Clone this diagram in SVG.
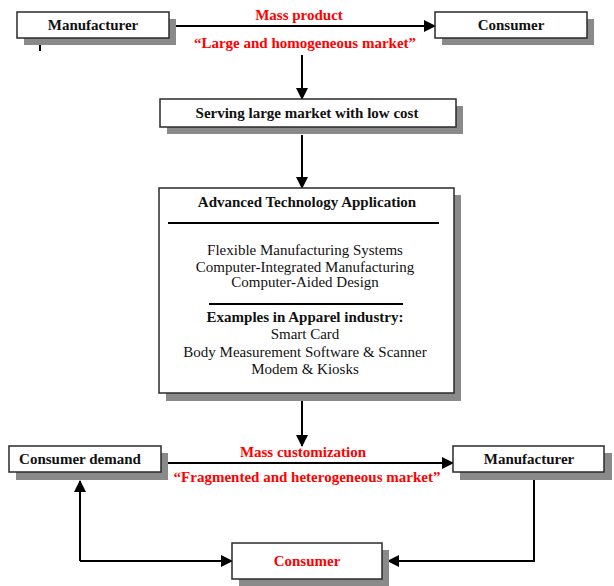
<svg xmlns="http://www.w3.org/2000/svg" width="614" height="586" viewBox="0 0 614 586">
  <style>
    .shadow { fill: #8a8a8a; }
    .box { fill: #ffffff; stroke: #2a2a2a; stroke-width: 1.5; }
    .lbl { font-family: "Liberation Serif", "Times New Roman", serif; font-size: 15px; fill: #111111; text-anchor: middle; }
    .b { font-weight: bold; }
    .red { fill: #ff0000; font-weight: bold; }
    .conn { fill: none; stroke: #000000; stroke-width: 2; }
    .rule { stroke: #000000; stroke-width: 2; }
  </style>
  <defs>
    <marker id="arrow" markerUnits="userSpaceOnUse" markerWidth="12" markerHeight="12" refX="11" refY="6" orient="auto">
      <path d="M0,0 L12,6 L0,12 z" fill="#000000"/>
    </marker>
  </defs>

  <rect width="614" height="586" fill="#ffffff"/>

  <!-- connectors -->
  <g id="connectors">
    <path class="conn" d="M173,26 L435,26" marker-end="url(#arrow)"/>
    <path class="conn" d="M302,55 L302,99" marker-end="url(#arrow)"/>
    <path class="conn" d="M302,135 L302,188" marker-end="url(#arrow)"/>
    <path class="conn" d="M302,393 L302,446" marker-end="url(#arrow)"/>
    <path class="conn" d="M164,463 L453,463" marker-end="url(#arrow)"/>
    <path class="conn" d="M80,561 L80,481" marker-end="url(#arrow)"/>
    <path class="conn" d="M80,561 L232,561" marker-end="url(#arrow)"/>
    <path class="conn" d="M534,480 L534,561 L388,561" marker-end="url(#arrow)"/>
    <path class="conn" d="M40,38 L40,51" stroke-width="1.5"/>
    <text class="lbl red" x="299" y="20">Mass product</text>
    <text class="lbl red" x="305" y="48">“Large and homogeneous market”</text>
    <text class="lbl red" x="303" y="457">Mass customization</text>
    <text class="lbl red" x="307" y="482">“Fragmented and heterogeneous market”</text>
  </g>

  <g id="manufacturer-top">
    <rect class="shadow" x="24" y="19" width="152" height="26"/>
    <rect class="box" x="17" y="12" width="152" height="26"/>
    <text class="lbl b" x="93" y="30">Manufacturer</text>
  </g>

  <g id="consumer-top">
    <rect class="shadow" x="442" y="19" width="152" height="26"/>
    <rect class="box" x="435" y="12" width="152" height="26"/>
    <text class="lbl b" x="511" y="30">Consumer</text>
  </g>

  <g id="serving">
    <rect class="shadow" x="167" y="106" width="296" height="28"/>
    <rect class="box" x="160" y="99" width="296" height="28"/>
    <text class="lbl b" x="307" y="118">Serving large market with low cost</text>
  </g>

  <g id="technology">
    <rect class="shadow" x="166" y="195" width="295" height="206"/>
    <rect class="box" x="159" y="188" width="295" height="205"/>
    <text class="lbl b" x="307" y="207">Advanced Technology Application</text>
    <line class="rule" x1="168" y1="223" x2="439" y2="223"/>
    <text class="lbl" x="305" y="255">Flexible Manufacturing Systems</text>
    <text class="lbl" x="305" y="272">Computer-Integrated Manufacturing</text>
    <text class="lbl" x="305" y="287">Computer-Aided Design</text>
    <line class="rule" x1="209" y1="304" x2="403" y2="304"/>
    <text class="lbl b" x="305" y="322">Examples in Apparel industry:</text>
    <text class="lbl" x="305" y="339">Smart Card</text>
    <text class="lbl" x="305" y="357">Body Measurement Software &amp; Scanner</text>
    <text class="lbl" x="305" y="374">Modem &amp; Kiosks</text>
  </g>

  <g id="consumer-demand">
    <rect class="shadow" x="16" y="453" width="152" height="27"/>
    <rect class="box" x="9" y="446" width="152" height="26"/>
    <text class="lbl b" x="80" y="464">Consumer demand</text>
  </g>

  <g id="manufacturer-bottom">
    <rect class="shadow" x="460" y="453" width="152" height="27"/>
    <rect class="box" x="453" y="446" width="151" height="26"/>
    <text class="lbl b" x="529" y="464">Manufacturer</text>
  </g>

  <g id="consumer-bottom">
    <rect class="shadow" x="239" y="550" width="150" height="36"/>
    <rect class="box" x="232" y="543" width="150" height="36"/>
    <text class="lbl red" x="307" y="566">Consumer</text>
  </g>
</svg>
